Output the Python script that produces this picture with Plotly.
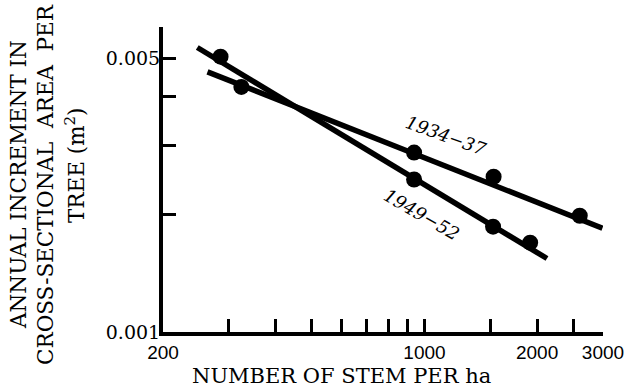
import math
import plotly.graph_objects as go

# Observed points
x_3437 = [324, 938, 1530, 2600]
y_3437 = [0.00422, 0.00287, 0.00249, 0.00198]
x_4952 = [285, 938, 1525, 1916]
y_4952 = [0.00504, 0.00245, 0.001857, 0.00169]

# Fitted lines (end points)
fit_x_3437 = [263, 2990]
fit_y_3437 = [0.00461, 0.00184]
fit_x_4952 = [247, 2125]
fit_y_4952 = [0.00532, 0.00154]

# Series label positions (data units)
label_text = ["1934−37", "1949−52"]
label_x = [1140, 986]
label_y = [0.00318, 0.0020]
label_angle = [20, 30]

x_tickvals = [200, 300, 400, 500, 600, 700, 800, 900, 1000, 1500, 2000, 2500, 3000]
x_ticktext = ["200", "", "", "", "", "", "", "", "1000", "", "2000", "", "3000"]
y_tickvals = [0.001, 0.002, 0.003, 0.004, 0.005, 0.006]
y_ticktext = ["0.001", "", "", "", "0.005", ""]

SERIF = "DejaVu Serif"
SANS = "Liberation Sans"

fig = go.Figure()
for fx, fy in [(fit_x_3437, fit_y_3437), (fit_x_4952, fit_y_4952)]:
    fig.add_trace(go.Scatter(x=fx, y=fy, mode="lines",
                             line=dict(color="black", width=5.5), showlegend=False))
for px, py in [(x_3437, y_3437), (x_4952, y_4952)]:
    fig.add_trace(go.Scatter(x=px, y=py, mode="markers",
                             marker=dict(color="black", size=16), showlegend=False))

for t, lx, ly, ang in zip(label_text, label_x, label_y, label_angle):
    fig.add_annotation(x=math.log10(lx), y=math.log10(ly), xref="x", yref="y",
                       text="<i>" + t + "</i>", showarrow=False, textangle=ang,
                       font=dict(family=SERIF, size=18, color="black"))

ytitle_lines = ["ANNUAL INCREMENT IN", "CROSS-SECTIONAL  AREA  PER", "TREE (m<sup>2</sup>)"]
ytitle_px = [18, 45, 75]
ytitle_py = [185, 185, 165]
for t, px, py in zip(ytitle_lines, ytitle_px, ytitle_py):
    fig.add_annotation(x=0, y=(332 - py) / 305, xref="paper", yref="paper",
                       xshift=px - 163, text=t, showarrow=False, textangle=-90,
                       xanchor="center", yanchor="middle",
                       font=dict(family=SERIF, size=21.5, color="black"))

# x-axis title (placed left of centre as in the reference)
fig.add_annotation(x=(341 - 163) / 440, y=(332 - 376) / 305, xref="paper", yref="paper",
                   text="NUMBER OF STEM PER ha", showarrow=False,
                   xanchor="center", yanchor="middle",
                   font=dict(family=SERIF, size=21, color="black"))

fig.update_xaxes(type="log", range=[2.30103, 3.47712], tickvals=x_tickvals,
                 ticktext=x_ticktext, ticks="inside", ticklen=13, tickwidth=3,
                 tickcolor="black", showline=True, linecolor="black", linewidth=4,
                 showgrid=False, zeroline=False,
                 tickfont=dict(family=SANS, size=19, color="black"))
fig.update_yaxes(type="log", range=[-3, -2.2218], tickvals=y_tickvals,
                 ticktext=y_ticktext, ticks="inside", ticklen=13, tickwidth=3,
                 tickcolor="black", showline=True, linecolor="black", linewidth=4,
                 showgrid=False, zeroline=False, ticklabelstandoff=-5,
                 tickfont=dict(family=SERIF, size=19, color="black"))

fig.update_layout(width=640, height=390, margin=dict(l=163, r=37, t=27, b=58),
                  plot_bgcolor="white", paper_bgcolor="white", showlegend=False)

fig.write_html("out.html")
